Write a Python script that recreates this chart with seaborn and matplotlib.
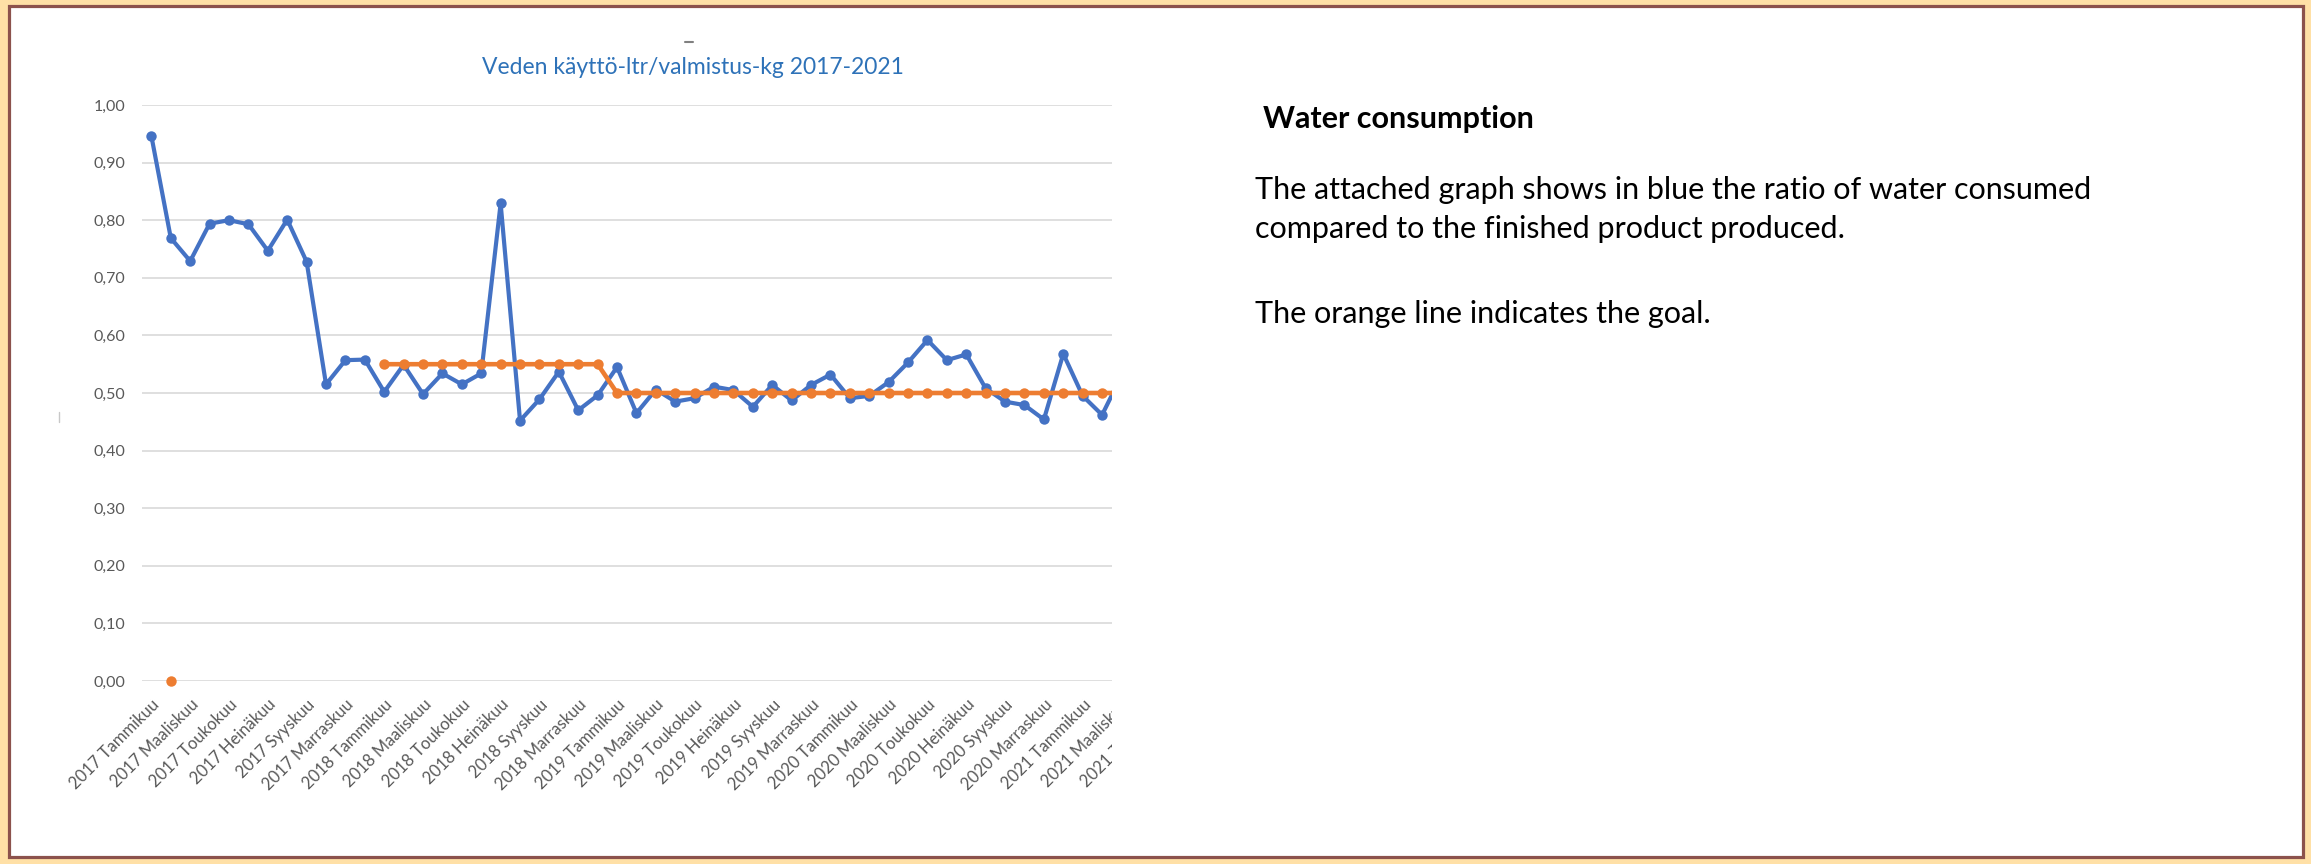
import numpy as np
import pandas as pd
import matplotlib.pyplot as plt
import seaborn as sns
from matplotlib.patches import Rectangle
from matplotlib.lines import Line2D
from matplotlib.ticker import FuncFormatter

# --- data -------------------------------------------------------------
years = [2017, 2018, 2019, 2020, 2021]
months = ["Tammikuu", "Helmikuu", "Maaliskuu", "Huhtikuu", "Toukokuu", "Kesäkuu",
          "Heinäkuu", "Elokuu", "Syyskuu", "Lokakuu", "Marraskuu", "Joulukuu"]

# water litres / produced kg, Jan 2017 ->
ratio = [0.946, 0.769, 0.729, 0.794, 0.800, 0.793, 0.747, 0.801, 0.728, 0.515, 0.557, 0.558,
         0.502, 0.549, 0.498, 0.534, 0.515, 0.534, 0.829, 0.452, 0.489, 0.537, 0.470, 0.496,
         0.545, 0.465, 0.506, 0.485, 0.491, 0.511, 0.505, 0.476, 0.514, 0.487, 0.514, 0.532,
         0.491, 0.495, 0.519, 0.553, 0.592, 0.557, 0.567, 0.508, 0.485, 0.479, 0.454, 0.568,
         0.495, 0.462, 0.530]

# goal line (orange)
goal = [np.nan, 0.0] + [np.nan] * 10 + [0.55] * 12 + [0.50] * 27

title = "Veden käyttö-ltr/valmistus-kg 2017-2021"
heading = "Water consumption"
body = ["The attached graph shows in blue the ratio of water consumed",
        "compared to the finished product produced.",
        "The orange line indicates the goal."]

BLUE = "#4472C4"
ORANGE = "#ED7D31"
BEIGE = "#FFE0A6"
BROWN = "#8C524C"

W, H = 2311, 864

sns.set_style("white")
plt.rcParams["font.family"] = ["Lato", "DejaVu Sans"]

categories = [f"{y} {m}" for y in years for m in months][:53]

df = pd.DataFrame({"idx": np.arange(len(ratio)), "ratio": ratio, "goal": goal})
df["seg"] = df["goal"].isna().cumsum()
goal_df = df.dropna(subset=["goal"])

fig = plt.figure(figsize=(W / 100, H / 100), dpi=100, facecolor=BEIGE)

# slide frame
fig.add_artist(Rectangle((8.5 / W, 7 / H), (2303 - 8.5) / W, (857 - 5.5) / H,
                         transform=fig.transFigure, facecolor="white",
                         edgecolor=BROWN, lw=2.3, zorder=-1))

# axes: x from category -0.5 (px 141.7) to 52.5 (px 1170), y 0 at px 681, 1.0 at px 105
ax = fig.add_axes([141.7 / W, (H - 681) / H, (1170 - 141.7) / W, (681 - 105) / H])
ax.set_facecolor("white")

sns.lineplot(data=df, x="idx", y="ratio", color=BLUE, marker="o", markersize=7.5,
             markeredgewidth=0, linewidth=3.0, ax=ax, legend=False)
sns.lineplot(data=goal_df, x="idx", y="goal", units="seg", estimator=None, color=ORANGE,
             marker="o", markersize=7.5, markeredgewidth=0, linewidth=3.3, ax=ax, legend=False)
for ln in ax.lines:
    ln.set_clip_on(False)

ax.set_xlim(-0.5, 52.5)
ax.set_ylim(0, 1.0)
ax.set_yticks(np.arange(0, 1.01, 0.1))
ax.yaxis.set_major_formatter(FuncFormatter(lambda v, p: f"{v:.2f}".replace(".", ",")))
ax.set_xticks(range(0, 53, 2))
ax.set_xticklabels(categories[::2], rotation=45, ha="right", va="top", rotation_mode="anchor")
ax.grid(axis="y", color="#D9D9D9", lw=1.2)
ax.grid(axis="x", visible=False)
for s in ax.spines.values():
    s.set_visible(False)
ax.tick_params(axis="both", length=0, colors="#595959")
ax.tick_params(axis="y", pad=12, labelsize=11.5)
ax.tick_params(axis="x", pad=11, labelsize=12)
ax.set_xlabel("")
ax.set_ylabel("")

# picture of the chart is cropped at px 1112
fig.add_artist(Rectangle((1112 / W, 12 / H), (1245 - 1112) / W, 760 / H,
                         transform=fig.transFigure, facecolor="white",
                         edgecolor="none", zorder=5))

fig.text(693 / W, 1 - 67 / H, title, ha="center", va="center", color="#2E72B8", fontsize=16.5)

# small handle marks left in the slide
fig.add_artist(Line2D([685 / W, 693 / W], [1 - 42 / H, 1 - 42 / H], color="#808080", lw=1.5))
fig.add_artist(Line2D([58.5 / W, 58.5 / W], [1 - 412 / H, 1 - 422 / H], color="#C8C8C8", lw=1))

fig.text(1263 / W, 1 - 128 / H, heading, ha="left", va="baseline", fontsize=22,
         fontweight="bold", color="black")
fig.text(1254.6 / W, 1 - 199 / H, body[0], ha="left", va="baseline", fontsize=22, color="black")
fig.text(1254.6 / W, 1 - 238 / H, body[1], ha="left", va="baseline", fontsize=22, color="black")
fig.text(1254.6 / W, 1 - 323 / H, body[2], ha="left", va="baseline", fontsize=22, color="black")

fig.savefig("out.png", dpi=100, facecolor=BEIGE)
